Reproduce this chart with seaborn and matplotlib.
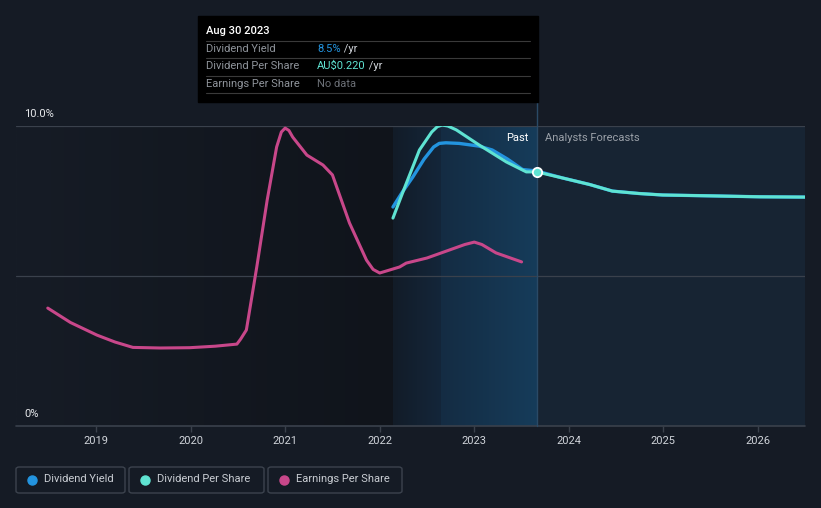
import numpy as np
import pandas as pd
import matplotlib
matplotlib.use("Agg")
import matplotlib.pyplot as plt
from matplotlib.patches import Rectangle, FancyBboxPatch
from matplotlib.colors import LinearSegmentedColormap
import seaborn as sns

# ---------------- data ----------------
eps_year = [2018.49, 2018.73, 2019.01, 2019.20, 2019.39, 2019.68, 2019.99, 2020.26, 2020.49,
            2020.53, 2020.59, 2020.70, 2020.81, 2020.91, 2020.96, 2021.00, 2021.04, 2021.08,
            2021.23, 2021.40, 2021.50, 2021.68, 2021.86, 2021.93, 2022.00, 2022.21, 2022.28,
            2022.50, 2022.74, 2022.90, 2023.00, 2023.08, 2023.23, 2023.50]
eps_val = [3.93, 3.45, 3.03, 2.8, 2.62, 2.6, 2.61, 2.66, 2.73,
           2.9, 3.2, 5.3, 7.53, 9.3, 9.8, 9.93, 9.85, 9.63,
           9.03, 8.7, 8.37, 6.77, 5.53, 5.22, 5.1, 5.3, 5.43,
           5.6, 5.87, 6.05, 6.13, 6.05, 5.77, 5.47]

dy_year = [2022.14, 2022.24, 2022.35, 2022.47, 2022.57, 2022.63, 2022.70, 2022.84, 2023.05,
           2023.19, 2023.35, 2023.51, 2023.66, 2023.93, 2024.22, 2024.46, 2024.74, 2024.99,
           2025.52, 2026.02, 2026.50]
dy_val = [7.3, 7.8, 8.3, 8.9, 9.3, 9.42, 9.44, 9.42, 9.33,
          9.2, 8.9, 8.55, 8.5, 8.27, 8.05, 7.83, 7.75, 7.7,
          7.67, 7.64, 7.63]

dps_year = [2022.14, 2022.27, 2022.42, 2022.55, 2022.61, 2022.66, 2022.72, 2022.81, 2023.05,
            2023.34, 2023.55, 2023.66, 2023.93, 2024.22, 2024.46, 2024.74, 2024.99, 2025.52,
            2026.02, 2026.50]
dps_val = [6.93, 8.0, 9.2, 9.8, 9.98, 10.03, 10.0, 9.87, 9.37,
           8.8, 8.47, 8.47, 8.27, 8.05, 7.83, 7.75, 7.7, 7.67,
           7.64, 7.63]

year_ticks = [2019, 2020, 2021, 2022, 2023, 2024, 2025, 2026]
legend_labels = ["Dividend Yield", "Dividend Per Share", "Earnings Per Share"]

# ---------------- style ----------------
BG = "#151b25"
C_DY = "#2394df"
C_DPS = "#5fe3d2"
C_EPS = "#c8478a"
FS = 8

sns.set_theme(style="dark")
plt.rcParams["font.family"] = ["Roboto", "DejaVu Sans"]

W, H = 821, 508
fig = plt.figure(figsize=(W / 100, H / 100), dpi=100, facecolor=BG)

def fx(x):
    return x / W

def fy(y):
    return 1 - y / H

L, R, T, B = 16, 805, 126, 426
ax = fig.add_axes([fx(L), fy(B), (R - L) / W, (B - T) / H])
ax.set_facecolor(BG)
for s in ax.spines.values():
    s.set_visible(False)

pxy = (758 - 96) / 7.0
def px2yr(x):
    return 2019 + (x - 96) / pxy

x0, x1 = px2yr(L), px2yr(R)

past_start = px2yr(393)
past_mid = px2yr(441)
now = px2yr(537)

grad = np.linspace(0, 1, 512).reshape(1, -1)
cm_left = LinearSegmentedColormap.from_list("l", ["#161c26", "#10141b"])
ax.imshow(grad, extent=[x0, past_start, 0, 10], aspect="auto", cmap=cm_left, zorder=0,
          interpolation="bilinear")
cm_p1 = LinearSegmentedColormap.from_list("p1", ["#121c28", "#14263a"])
ax.imshow(grad, extent=[past_start, past_mid, 0, 10], aspect="auto", cmap=cm_p1, zorder=0,
          interpolation="bilinear")
cm_p2 = LinearSegmentedColormap.from_list("p2", ["#142c43", "#163c5a"])
ax.imshow(grad, extent=[past_mid, now, 0, 10], aspect="auto", cmap=cm_p2, zorder=0,
          interpolation="bilinear")
ax.axvspan(now, x1, color="#172433", zorder=0, lw=0)
ax.set_xlim(x0, x1)
ax.set_ylim(0, 10)

# gridlines
for yv in [5, 10]:
    ax.axhline(yv, color="#3a414c", lw=0.9, zorder=1)
ax.axhline(0, color="#3a414c", lw=1.2, zorder=1, clip_on=False)

# vertical "now" line
ax.plot([now, now], [0, 10 + 24 / 30], color="#2a4a66", lw=1, clip_on=False, zorder=1)

# series
sns.lineplot(x=eps_year, y=eps_val, ax=ax, color=C_EPS, lw=2.2, sort=False, zorder=3)
sns.lineplot(x=dy_year, y=dy_val, ax=ax, color=C_DY, lw=2.4, sort=False, zorder=4)
sns.lineplot(x=dps_year, y=dps_val, ax=ax, color=C_DPS, lw=2.2, sort=False, zorder=5)
ax.scatter([dps_year[11]], [dps_val[11]], s=45, color=C_DPS, edgecolor="white", lw=1.3, zorder=6)

# ticks
ax.set_xticks(year_ticks)
ax.set_xticklabels([str(y) for y in year_ticks], color="#d0d4da", fontsize=FS)
ax.tick_params(axis="x", length=4, color="#3a414c", width=1, pad=3, bottom=True)
ax.set_yticks([])
ax.set_xlabel("")
ax.set_ylabel("")
ax.grid(False)

# y labels
fig.text(fx(24), fy(114), "10.0%", color="#e6e8eb", fontsize=FS, va="center", ha="left")
fig.text(fx(24), fy(414), "0%", color="#e6e8eb", fontsize=FS, va="center", ha="left")

# Past / forecast labels
fig.text(fx(528), fy(138), "Past", color="#ffffff", fontsize=FS, va="center", ha="right")
fig.text(fx(545), fy(138), "Analysts Forecasts", color="#9aa0a8", fontsize=FS, va="center", ha="left")

# tooltip
fig.patches.append(Rectangle((fx(198), fy(102)), (538 - 198) / W, (102 - 16) / H,
                             transform=fig.transFigure, color="#000000", zorder=10))
for yl in [41, 58, 76, 93]:
    fig.add_artist(plt.Line2D([fx(206), fx(530)], [fy(yl), fy(yl)], color="#3a3a3a", lw=0.8,
                              transform=fig.transFigure, zorder=11))
fig.text(fx(206), fy(31), "Aug 30 2023", color="#ffffff", fontsize=FS, va="center", ha="left",
         fontweight="medium", zorder=12)
rows = [("Dividend Yield", "8.5%", C_DY, " /yr"),
        ("Dividend Per Share", "AU\\$0.220", C_DPS, " /yr"),
        ("Earnings Per Share", "No data", "#6c7077", "")]
ys = [49, 66, 84]
for (lab, val, col, suf), yy in zip(rows, ys):
    fig.text(fx(206), fy(yy), lab, color="#8f949b", fontsize=FS, va="center", ha="left", zorder=12)
    t = fig.text(fx(317), fy(yy), val, color=col, fontsize=FS, va="center", ha="left", zorder=12)
    if suf:
        fig.canvas.draw()
        bb = t.get_window_extent()
        fig.text(bb.x1 / W, fy(yy), suf, color="#d0d4da", fontsize=FS, va="center", ha="left", zorder=12)

# legend boxes
boxes = [(16, 125), (129, 264), (268, 402)]
lcols = [C_DY, C_DPS, C_EPS]
for (bx0, bx1), lab, col in zip(boxes, legend_labels, lcols):
    fig.patches.append(FancyBboxPatch((fx(bx0), fy(493)), (bx1 - bx0) / W, 26 / H,
                                      boxstyle="round,pad=0,rounding_size=0.004",
                                      transform=fig.transFigure, facecolor="none",
                                      edgecolor="#3c434e", lw=1))
    fig.add_artist(plt.Line2D([fx(bx0 + 16)], [fy(479.5)], marker="o", markersize=6.5,
                              color=col, transform=fig.transFigure))
    fig.text(fx(bx0 + 28), fy(479.5), lab, color="#c9cdd3", fontsize=FS, va="center", ha="left")

fig.savefig("out.png", dpi=100, facecolor=BG)
